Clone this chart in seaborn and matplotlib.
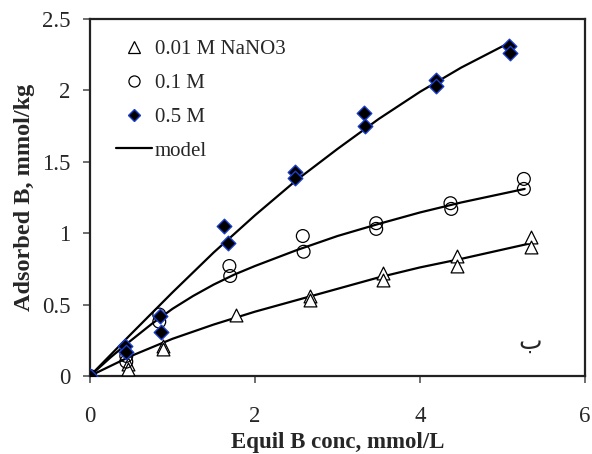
#!/usr/bin/env python3
"""
Boron adsorption isotherms at three NaNO3 ionic strengths, with model curves
"""

import matplotlib
matplotlib.use("Agg")
import matplotlib.pyplot as plt
import seaborn as sns
from matplotlib.lines import Line2D

x_001 = [0, 0.46, 0.46, 0.88, 0.88, 1.77, 2.67, 2.67, 3.55, 3.55, 4.45, 4.45, 5.35, 5.35]
y_001 = [0, 0.08, 0.05, 0.21, 0.19, 0.43, 0.56, 0.53, 0.72, 0.67, 0.84, 0.77, 0.97, 0.90]

x_01 = [0, 0.44, 0.44, 0.84, 0.84, 1.69, 1.70, 2.58, 2.59, 3.47, 3.47, 4.37, 4.38, 5.26, 5.26]
y_01 = [0, 0.14, 0.10, 0.43, 0.38, 0.77, 0.70, 0.98, 0.87, 1.07, 1.03, 1.21, 1.17, 1.38, 1.31]

x_05 = [0, 0.43, 0.44, 0.85, 0.86, 1.63, 1.67, 2.48, 2.48, 3.32, 3.34, 4.20, 4.20, 5.08, 5.09]
y_05 = [0, 0.21, 0.17, 0.42, 0.31, 1.05, 0.93, 1.43, 1.39, 1.84, 1.75, 2.07, 2.03, 2.31, 2.26]

# model curves
mx_001 = [0, 0.5, 1, 1.5, 2, 2.5, 3, 3.5, 4, 4.5, 5.35]
my_001 = [0, 0.14, 0.26, 0.36, 0.45, 0.53, 0.61, 0.69, 0.76, 0.82, 0.93]

mx_01 = [0, 0.25, 0.5, 0.75, 1, 1.25, 1.5, 1.75, 2, 2.5, 3, 3.5, 4, 4.5, 5.27]
my_01 = [0, 0.13, 0.25, 0.365, 0.47, 0.56, 0.64, 0.71, 0.77, 0.88, 0.98, 1.065, 1.145, 1.215, 1.31]

mx_05 = [0, 0.5, 1, 1.5, 2, 2.5, 3, 3.5, 4, 4.5, 5.07]
my_05 = [0, 0.295, 0.585, 0.865, 1.125, 1.37, 1.59, 1.80, 1.99, 2.16, 2.33]

legend_labels = ["0.01 M NaNO3", "0.1 M", "0.5 M", "model"]
x_ticks = [0, 2, 4, 6]
y_ticks = [0, 0.5, 1, 1.5, 2, 2.5]
y_tick_labels = ["0", "0.5", "1", "1.5", "2", "2.5"]

sns.set_style("ticks")
plt.rcParams["font.family"] = ["Liberation Serif", "DejaVu Sans"]

fig = plt.figure(figsize=(5.92, 4.54), dpi=100)
ax = fig.add_axes([0.152, 0.172, 0.836, 0.786])

# model lines first so markers sit on top
for mx, my in [(mx_001, my_001), (mx_01, my_01), (mx_05, my_05)]:
    sns.lineplot(x=mx, y=my, ax=ax, color="black", linewidth=1.6, zorder=2)

sns.scatterplot(x=x_001, y=y_001, ax=ax, marker="^", s=85,
                facecolor="white", edgecolor="black", linewidth=0.9, zorder=3)
sns.scatterplot(x=x_01, y=y_01, ax=ax, marker="o", s=85,
                facecolor="none", edgecolor="black", linewidth=0.9, zorder=3)
sns.scatterplot(x=x_05, y=y_05, ax=ax, marker="D", s=55,
                facecolor="black", edgecolor="#1a3ccc", linewidth=1.0, zorder=4)

ax.set_xlim(0, 6)
ax.set_ylim(0, 2.5)
ax.set_xticks(x_ticks)
ax.set_yticks(y_ticks)
ax.set_yticklabels(y_tick_labels)
ax.tick_params(axis="both", direction="out", length=5, width=1.2,
               color="#555555", labelsize=16.5)
ax.tick_params(axis="x", pad=17)
ax.tick_params(axis="y", pad=9)
for sp in ax.spines.values():
    sp.set_visible(True)
    sp.set_linewidth(1.6)
    sp.set_color("#222222")

ax.set_xlabel("Equil B conc, mmol/L", fontsize=16.5, fontweight="bold", labelpad=3)
ax.set_ylabel("Adsorbed B, mmol/kg", fontsize=17.5, fontweight="bold", labelpad=5)

ax.text(5.33, 0.24, "ب", fontsize=18, ha="center", va="center",
        family=["DejaVu Sans"])

handles = [
    Line2D([], [], linestyle="none", marker="^", markersize=8,
           markerfacecolor="white", markeredgecolor="black", markeredgewidth=0.9),
    Line2D([], [], linestyle="none", marker="o", markersize=8,
           markerfacecolor="none", markeredgecolor="black", markeredgewidth=0.9),
    Line2D([], [], linestyle="none", marker="D", markersize=6.5,
           markerfacecolor="black", markeredgecolor="#1a3ccc", markeredgewidth=1.0),
    Line2D([], [], color="black", linewidth=1.6),
]
ax.legend(handles, legend_labels, loc="upper left", frameon=False,
          fontsize=15, handlelength=1.7, handletextpad=0.15,
          labelspacing=0.68, bbox_to_anchor=(0.036, 0.965), borderaxespad=0)

fig.savefig("out.png", dpi=100)
